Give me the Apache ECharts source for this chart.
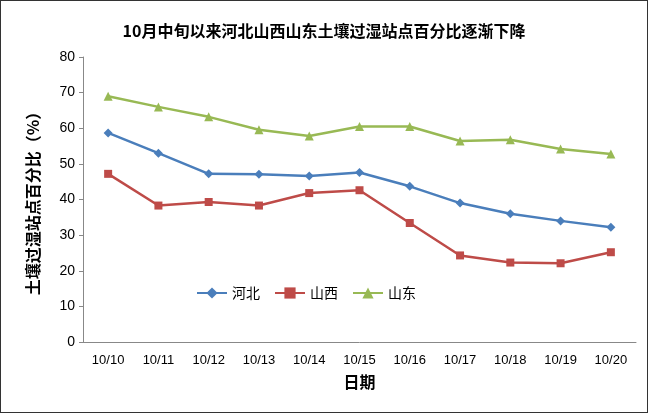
<!DOCTYPE html>
<html><head><meta charset="utf-8">
<script src="https://cdn.jsdelivr.net/npm/echarts@6/dist/echarts.min.js"></script>
<style>html,body{margin:0;padding:0;background:#fff}
#main{width:646px;height:411px;border:1px solid #333;}</style>
</head><body><div id="main"></div>
<script>
var categories = ['10/10','10/11','10/12','10/13','10/14','10/15','10/16','10/17','10/18','10/19','10/20'];
var hebei  = [58.7, 53.0, 47.2, 47.1, 46.6, 47.6, 43.7, 39.0, 36.0, 34.0, 32.2];
var shanxi = [47.2, 38.3, 39.3, 38.3, 41.8, 42.6, 33.4, 24.3, 22.3, 22.1, 25.2];
var shandong = [69.0, 66.0, 63.2, 59.6, 57.8, 60.5, 60.5, 56.4, 56.8, 54.2, 52.8];
var font = '"Noto Sans CJK SC", sans-serif';
var option = {
  title: {text: '10月中旬以来河北山西山东土壤过湿站点百分比逐渐下降', left: 'center', top: 17,
    textStyle: {fontFamily: font, fontSize: 16, fontWeight: 'bold', color: '#000'}},
  legend: {left: 190, top: 280, itemGap: 14, itemWidth: 30,
    textStyle: {fontFamily: font, fontSize: 14, color: '#000'},
    data: ['河北','山西','山东']},
  grid: {left: 82, right: 11, top: 56, bottom: 70},
  xAxis: {type: 'category', data: categories, name: '日期', nameLocation: 'middle', nameGap: 32,
    nameTextStyle: {fontFamily: font, fontSize: 16, fontWeight: 'bold', color: '#000'},
    axisLine: {lineStyle: {color: '#888'}}, axisTick: {show: false},
    axisLabel: {color: '#000', fontSize: 13, margin: 12, fontFamily: 'Liberation Sans'}},
  yAxis: {type: 'value', min: 0, max: 80, interval: 10, name: '土壤过湿站点百分比（%）',
    nameLocation: 'middle', nameGap: 42,
    nameTextStyle: {fontFamily: font, fontSize: 16, fontWeight: 'bold', color: '#000'},
    axisLine: {show: true, lineStyle: {color: '#888'}}, axisTick: {show: true, length: 4},
    splitLine: {show: false}, axisLabel: {color: '#000', fontSize: 14, fontFamily: 'Liberation Sans'}},
  series: [
    {name: '河北', type: 'line', data: hebei, symbol: 'diamond', symbolSize: 9,
      itemStyle: {color: '#4a7ebb'}, lineStyle: {width: 2.5, color: '#4a7ebb'}},
    {name: '山西', type: 'line', data: shanxi, symbol: 'rect', symbolSize: 8,
      itemStyle: {color: '#be4b48'}, lineStyle: {width: 2.5, color: '#be4b48'}},
    {name: '山东', type: 'line', data: shandong, symbol: 'triangle', symbolSize: 9,
      itemStyle: {color: '#98b954'}, lineStyle: {width: 2.5, color: '#98b954'}}
  ]
};
echarts.init(document.getElementById('main')).setOption(option);
</script></body></html>
